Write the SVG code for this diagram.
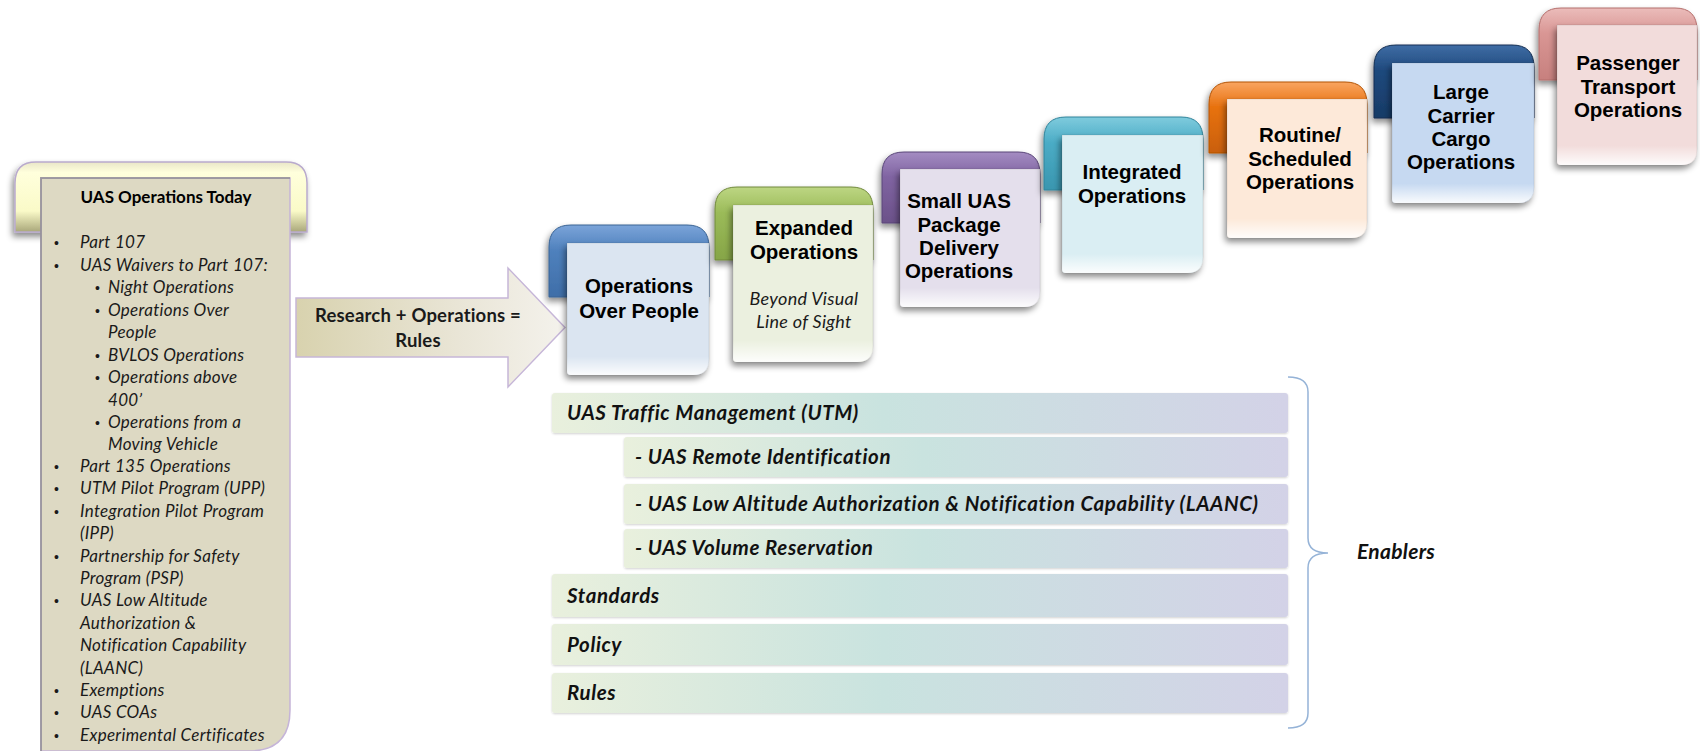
<svg xmlns="http://www.w3.org/2000/svg" width="1700" height="751" viewBox="0 0 1700 751">
<style>
.lbl{font-family:"Liberation Sans",Arial,sans-serif;font-weight:bold;font-size:20.5px;fill:#000;text-anchor:middle}
.sub{font-family:Lato,"Open Sans",sans-serif;font-style:italic;font-size:18px;letter-spacing:0.3px;fill:#1a1a1a;text-anchor:middle}
.bul{font-family:Lato,"Open Sans",sans-serif;font-style:italic;font-size:17px;letter-spacing:0.3px;fill:#1a1a1a}
.dot{font-family:"Liberation Sans",Arial,sans-serif;font-size:14px;fill:#1a1a1a}
.ttl{font-family:Lato,"Open Sans",sans-serif;font-weight:bold;font-size:17px;fill:#000;text-anchor:middle}
.bar{font-family:Lato,"Open Sans",sans-serif;font-weight:bold;font-style:italic;font-size:20.5px;letter-spacing:0.6px;fill:#111}
.arr{font-family:Lato,"Open Sans",sans-serif;font-weight:bold;font-size:18.5px;letter-spacing:0.2px;fill:#1a1a1a;text-anchor:middle}
.barrect{fill:url(#barG);filter:url(#sh2)}
.glare{fill:url(#glareG)}
.inner{stroke:#000;stroke-opacity:0.08;stroke-width:1}
</style>
<defs>
<filter id="sh" x="-20%" y="-20%" width="140%" height="140%">
<feDropShadow dx="-2" dy="4" stdDeviation="3" flood-color="#000" flood-opacity="0.45"/>
</filter>
<filter id="sh2" x="-5%" y="-20%" width="110%" height="150%">
<feDropShadow dx="0" dy="1" stdDeviation="1" flood-color="#000" flood-opacity="0.18"/>
</filter>
<linearGradient id="barG" x1="0" y1="0" x2="1" y2="0">
<stop offset="0" stop-color="#e9f0dd"/>
<stop offset="0.45" stop-color="#c9e3df"/>
<stop offset="1" stop-color="#d3d2e7"/>
</linearGradient>
<linearGradient id="glareG" x1="0" y1="0" x2="0" y2="1">
<stop offset="0" stop-color="#fff" stop-opacity="0"/>
<stop offset="0.86" stop-color="#fff" stop-opacity="0"/>
<stop offset="1" stop-color="#fff" stop-opacity="0.9"/>
</linearGradient>
<linearGradient id="arrG" x1="0" y1="0" x2="1" y2="0">
<stop offset="0" stop-color="#d8d2ae"/>
<stop offset="0.6" stop-color="#e9e5d6"/>
<stop offset="1" stop-color="#f4f2ec"/>
</linearGradient>
<linearGradient id="yelG" x1="0" y1="0" x2="0" y2="1">
<stop offset="0" stop-color="#e9e6c8"/>
<stop offset="0.15" stop-color="#ffffdc"/>
<stop offset="0.7" stop-color="#fafac8"/>
<stop offset="1" stop-color="#a9a77a"/>
</linearGradient>
<linearGradient id="t1" x1="0" y1="0" x2="0" y2="1"><stop offset="0" stop-color="#7ba4d9"/><stop offset="0.35" stop-color="#4f81bd"/><stop offset="1" stop-color="#3f6ea8"/></linearGradient>
<linearGradient id="t2" x1="0" y1="0" x2="0" y2="1"><stop offset="0" stop-color="#bdd683"/><stop offset="0.35" stop-color="#9bbb59"/><stop offset="1" stop-color="#86a547"/></linearGradient>
<linearGradient id="t3" x1="0" y1="0" x2="0" y2="1"><stop offset="0" stop-color="#a48cc2"/><stop offset="0.35" stop-color="#8064a2"/><stop offset="1" stop-color="#6b5189"/></linearGradient>
<linearGradient id="t4" x1="0" y1="0" x2="0" y2="1"><stop offset="0" stop-color="#7fcbdd"/><stop offset="0.35" stop-color="#4bacc6"/><stop offset="1" stop-color="#3996af"/></linearGradient>
<linearGradient id="t5" x1="0" y1="0" x2="0" y2="1"><stop offset="0" stop-color="#f9a561"/><stop offset="0.35" stop-color="#e8720f"/><stop offset="1" stop-color="#c95f07"/></linearGradient>
<linearGradient id="t6" x1="0" y1="0" x2="0" y2="1"><stop offset="0" stop-color="#3f6da5"/><stop offset="0.35" stop-color="#1f497d"/><stop offset="1" stop-color="#173b67"/></linearGradient>
<linearGradient id="t7" x1="0" y1="0" x2="0" y2="1"><stop offset="0" stop-color="#ebbcba"/><stop offset="0.35" stop-color="#d99694"/><stop offset="1" stop-color="#c7807e"/></linearGradient>
</defs>
<rect width="1700" height="751" fill="#fff"/>

<g id="today">
<path d="M15,232 V183 Q15,162 36,162 H286 Q307,162 307,183 V232 Z" fill="url(#yelG)" stroke="#b9aacd" stroke-width="1.5" filter="url(#sh)"/>
<path d="M41,178 H290 V710 Q290,751 249,751 H41 Z" fill="#ddd9c3" stroke="#c5b4d8" stroke-width="1.5"/>
<path d="M41,751 V178 H290" fill="none" stroke="#7f7f7f" stroke-width="2" stroke-opacity="0.6"/>
<text class="ttl" x="166" y="203">UAS Operations Today</text>
<g class="dot">
<text x="54" y="248">•</text><text x="54" y="271">•</text>
<text x="54" y="472">•</text><text x="54" y="494">•</text><text x="54" y="517">•</text>
<text x="54" y="562">•</text><text x="54" y="606">•</text><text x="54" y="696">•</text>
<text x="54" y="718">•</text><text x="54" y="741">•</text>
<text x="95" y="293">•</text><text x="95" y="316">•</text><text x="95" y="361">•</text>
<text x="95" y="383">•</text><text x="95" y="428">•</text>
</g>
<g class="bul">
<text x="80" y="248">Part 107</text>
<text x="80" y="271">UAS Waivers to Part 107:</text>
<text x="108" y="293">Night Operations</text>
<text x="108" y="316">Operations Over</text>
<text x="108" y="338">People</text>
<text x="108" y="361">BVLOS Operations</text>
<text x="108" y="383">Operations above</text>
<text x="108" y="406">400’</text>
<text x="108" y="428">Operations from a</text>
<text x="108" y="450">Moving Vehicle</text>
<text x="80" y="472">Part 135 Operations</text>
<text x="80" y="494">UTM Pilot Program (UPP)</text>
<text x="80" y="517">Integration Pilot Program</text>
<text x="80" y="539">(IPP)</text>
<text x="80" y="562">Partnership for Safety</text>
<text x="80" y="584">Program (PSP)</text>
<text x="80" y="606">UAS Low Altitude</text>
<text x="80" y="629">Authorization &amp;</text>
<text x="80" y="651">Notification Capability</text>
<text x="80" y="674">(LAANC)</text>
<text x="80" y="696">Exemptions</text>
<text x="80" y="718">UAS COAs</text>
<text x="80" y="741">Experimental Certificates</text>
</g>
</g>

<g id="connectors">
<path d="M296,298 H508 V268 L565,327.5 L508,387 V357 H296 Z" fill="url(#arrG)" stroke="#c6b6d8" stroke-width="1.5"/>
<text class="arr" x="418" y="322">Research + Operations =</text>
<text class="arr" x="418" y="347">Rules</text>
<path d="M1288,377 Q1308,377 1308,392 V538 Q1308,553 1328,553 Q1308,553 1308,568 V713 Q1308,728 1288,728" fill="none" stroke="#95b3d7" stroke-width="1.5"/>
</g>

<g id="step1">
<path d="M549,297 V247 Q549,225 571,225 H687 Q709,225 709,247 V297 Z" fill="url(#t1)" stroke="#3a6494" stroke-width="1" filter="url(#sh)"/>
<path class="inner" d="M567,243 H709 V359 Q709,375 693,375 H571 Q567,375 567,371 Z" fill="#dbe5f1" filter="url(#sh)"/>
<path class="glare" d="M567,243 H709 V359 Q709,375 693,375 H571 Q567,375 567,371 Z"/>
<text class="lbl" x="639" y="293">Operations</text>
<text class="lbl" x="639" y="318">Over People</text>
</g>

<g id="step2">
<path d="M715,260 V209 Q715,187 737,187 H851 Q873,187 873,209 V260 Z" fill="url(#t2)" stroke="#71893d" stroke-width="1" filter="url(#sh)"/>
<path class="inner" d="M733,205 H873 V346 Q873,362 857,362 H737 Q733,362 733,358 Z" fill="#ebf0df" filter="url(#sh)"/>
<path class="glare" d="M733,205 H873 V346 Q873,362 857,362 H737 Q733,362 733,358 Z"/>
<text class="lbl" x="804" y="235">Expanded</text>
<text class="lbl" x="804" y="259">Operations</text>
<text class="sub" x="804" y="305">Beyond Visual</text>
<text class="sub" x="804" y="328">Line of Sight</text>
</g>

<g id="step3">
<path d="M882,223 V174 Q882,152 904,152 H1018 Q1040,152 1040,174 V223 Z" fill="url(#t3)" stroke="#5a4679" stroke-width="1" filter="url(#sh)"/>
<path class="inner" d="M900,169 H1040 V291 Q1040,307 1024,307 H904 Q900,307 900,303 Z" fill="#e4dfec" filter="url(#sh)"/>
<path class="glare" d="M900,169 H1040 V291 Q1040,307 1024,307 H904 Q900,307 900,303 Z"/>
<text class="lbl" x="959" y="208">Small UAS</text>
<text class="lbl" x="959" y="232">Package</text>
<text class="lbl" x="959" y="255">Delivery</text>
<text class="lbl" x="959" y="278">Operations</text>
</g>

<g id="step4">
<path d="M1044,190 V139 Q1044,117 1066,117 H1181 Q1203,117 1203,139 V190 Z" fill="url(#t4)" stroke="#31849b" stroke-width="1" filter="url(#sh)"/>
<path class="inner" d="M1062,135 H1203 V257 Q1203,273 1187,273 H1066 Q1062,273 1062,269 Z" fill="#daeef3" filter="url(#sh)"/>
<path class="glare" d="M1062,135 H1203 V257 Q1203,273 1187,273 H1066 Q1062,273 1062,269 Z"/>
<text class="lbl" x="1132" y="179">Integrated</text>
<text class="lbl" x="1132" y="203">Operations</text>
</g>

<g id="step5">
<path d="M1209,153 V104 Q1209,82 1231,82 H1345 Q1367,82 1367,104 V153 Z" fill="url(#t5)" stroke="#b35405" stroke-width="1" filter="url(#sh)"/>
<path class="inner" d="M1227,99 H1367 V222 Q1367,238 1351,238 H1231 Q1227,238 1227,234 Z" fill="#fde9d9" filter="url(#sh)"/>
<path class="glare" d="M1227,99 H1367 V222 Q1367,238 1351,238 H1231 Q1227,238 1227,234 Z"/>
<text class="lbl" x="1300" y="142">Routine/</text>
<text class="lbl" x="1300" y="166">Scheduled</text>
<text class="lbl" x="1300" y="189">Operations</text>
</g>

<g id="step6">
<path d="M1374,118 V67 Q1374,45 1396,45 H1512 Q1534,45 1534,67 V118 Z" fill="url(#t6)" stroke="#142f52" stroke-width="1" filter="url(#sh)"/>
<path class="inner" d="M1392,63 H1534 V187 Q1534,203 1518,203 H1396 Q1392,203 1392,199 Z" fill="#c6d9f1" filter="url(#sh)"/>
<path class="glare" d="M1392,63 H1534 V187 Q1534,203 1518,203 H1396 Q1392,203 1392,199 Z"/>
<text class="lbl" x="1461" y="99">Large</text>
<text class="lbl" x="1461" y="123">Carrier</text>
<text class="lbl" x="1461" y="146">Cargo</text>
<text class="lbl" x="1461" y="169">Operations</text>
</g>

<g id="step7">
<path d="M1539,80 V30 Q1539,8 1561,8 H1675 Q1697,8 1697,30 V80 Z" fill="url(#t7)" stroke="#b46e6c" stroke-width="1" filter="url(#sh)"/>
<path class="inner" d="M1557,25 H1697 V149 Q1697,165 1681,165 H1561 Q1557,165 1557,161 Z" fill="#f2dcdb" filter="url(#sh)"/>
<path class="glare" d="M1557,25 H1697 V149 Q1697,165 1681,165 H1561 Q1557,165 1557,161 Z"/>
<text class="lbl" x="1628" y="70">Passenger</text>
<text class="lbl" x="1628" y="94">Transport</text>
<text class="lbl" x="1628" y="117">Operations</text>
</g>

<g id="enabler-utm"><rect class="barrect" x="552" y="393" width="736" height="40" rx="3"/><text class="bar" x="567" y="420">UAS Traffic Management (UTM)</text></g>
<g id="enabler-rid"><rect class="barrect" x="624" y="437" width="664" height="40" rx="3"/><text class="bar" x="635" y="464">- UAS Remote Identification</text></g>
<g id="enabler-laanc"><rect class="barrect" x="624" y="484" width="664" height="40" rx="3"/><text class="bar" x="635" y="511">- UAS Low Altitude Authorization &amp; Notification Capability (LAANC)</text></g>
<g id="enabler-vol"><rect class="barrect" x="624" y="529" width="664" height="39" rx="3"/><text class="bar" x="635" y="555">- UAS Volume Reservation</text></g>
<g id="enabler-standards"><rect class="barrect" x="552" y="574" width="736" height="43" rx="3"/><text class="bar" x="567" y="603">Standards</text></g>
<g id="enabler-policy"><rect class="barrect" x="552" y="624" width="736" height="41" rx="3"/><text class="bar" x="567" y="652">Policy</text></g>
<g id="enabler-rules"><rect class="barrect" x="552" y="673" width="736" height="40" rx="3"/><text class="bar" x="567" y="700">Rules</text></g>
<g id="enablers-label"><text class="bar" x="1357" y="559" style="font-size:21px;letter-spacing:0.3px">Enablers</text></g>
</svg>
